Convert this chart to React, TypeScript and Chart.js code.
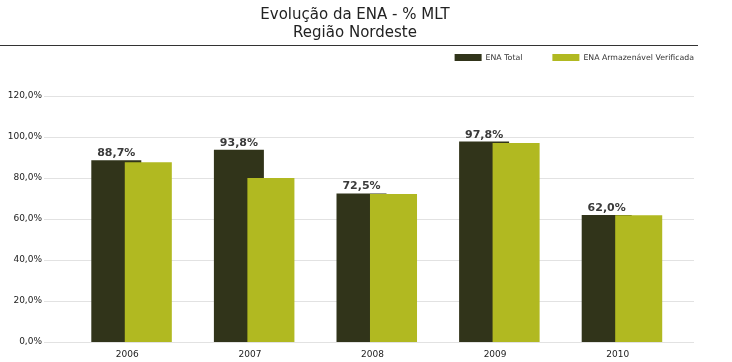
import React, { useEffect, useRef } from 'react';
import { Chart, registerables } from 'chart.js';

Chart.register(...registerables);

const years = ['2006', '2007', '2008', '2009', '2010'];
const enaTotal = [88.7, 93.8, 72.5, 97.8, 62.0];
const enaArmazenavel = [87.7, 80.0, 72.2, 97.1, 61.8];
const titleLines = ['Evolução da ENA - % MLT', 'Região Nordeste'];
const seriesNames = ['ENA Total', 'ENA Armazenável Verificada'];
const seriesColors = ['#31341a', '#b1b921'];

const fmt = (v: number) => v.toFixed(1).replace('.', ',') + '%';

const decor = {
  id: 'decor',
  beforeDatasetsDraw(chart: any) {
    const { ctx, chartArea, scales } = chart;
    const y = scales.y;
    ctx.save();
    ctx.strokeStyle = '#e2e2e2';
    ctx.lineWidth = 1;
    y.ticks.forEach((t: any) => {
      const py = Math.round(y.getPixelForValue(t.value)) + 0.5;
      ctx.beginPath();
      ctx.moveTo(chartArea.left - 27, py);
      ctx.lineTo(chartArea.right + 10, py);
      ctx.stroke();
    });
    ctx.restore();
  },
  beforeDatasetDraw(chart: any, args: any) {
    if (args.index === 1) return false;
  },
  afterDatasetsDraw(chart: any) {
    const ctx = chart.ctx;
    const meta1 = chart.getDatasetMeta(1);
    meta1.data.forEach((el: any) => el.draw(ctx));
    const meta0 = chart.getDatasetMeta(0);
    ctx.save();
    ctx.font = 'bold 11px "DejaVu Sans"';
    ctx.fillStyle = '#3a3a3a';
    ctx.textAlign = 'center';
    ctx.textBaseline = 'alphabetic';
    meta0.data.forEach((el: any, i: number) => {
      ctx.fillText(fmt(enaTotal[i]), el.x, el.y - 4);
    });
    ctx.restore();
  },
  afterDraw(chart: any) {
    const ctx = chart.ctx;
    ctx.save();
    // title
    ctx.font = '15px "DejaVu Sans"';
    ctx.fillStyle = '#222222';
    ctx.textAlign = 'center';
    ctx.textBaseline = 'alphabetic';
    ctx.fillText(titleLines[0], 355, 18.5);
    ctx.fillText(titleLines[1], 355, 36.5);
    // rule
    ctx.strokeStyle = '#333333';
    ctx.lineWidth = 1;
    ctx.beginPath();
    ctx.moveTo(0, 45.5);
    ctx.lineTo(698, 45.5);
    ctx.stroke();
    // legend
    ctx.font = '7.8px "DejaVu Sans"';
    ctx.textAlign = 'left';
    ctx.textBaseline = 'middle';
    const boxW = 27, boxH = 7, gapText = 4, gapItem = 30;
    const ds = chart.data.datasets;
    const widths = ds.map((d: any) => boxW + gapText + ctx.measureText(d.label).width);
    const total = widths.reduce((a: number, b: number) => a + b, 0) + gapItem * (ds.length - 1);
    let x = 694 - total;
    ds.forEach((d: any, i: number) => {
      ctx.fillStyle = d.backgroundColor;
      ctx.fillRect(x, 54, boxW, boxH);
      ctx.fillStyle = '#333333';
      ctx.fillText(d.label, x + boxW + gapText, 57.5);
      x += widths[i] + gapItem;
    });
    ctx.restore();
  },
};

export default function App() {
  const canvasRef = useRef<HTMLCanvasElement | null>(null);

  useEffect(() => {
    if (!canvasRef.current) return;
    const chart = new Chart(canvasRef.current, {
      type: 'bar',
      data: {
        labels: years,
        datasets: [
          {
            label: seriesNames[0],
            data: enaTotal,
            backgroundColor: seriesColors[0],
            categoryPercentage: 0.522,
            barPercentage: 1.5625,
          },
          {
            label: seriesNames[1],
            data: enaArmazenavel,
            backgroundColor: seriesColors[1],
            categoryPercentage: 0.522,
            barPercentage: 1.47,
          },
        ],
      },
      options: {
        responsive: false,
        animation: false,
        devicePixelRatio: 1,
        layout: { padding: { top: 96, left: 0, right: 48, bottom: 0 } },
        plugins: {
          legend: { display: false },
          title: { display: false },
          tooltip: { enabled: false },
        },
        scales: {
          x: {
            grid: { display: false, drawTicks: false },
            border: { display: false },
            ticks: {
              color: '#222222',
              font: { family: '"DejaVu Sans"', size: 9 },
              padding: 7,
              labelOffset: -5,
              maxRotation: 0,
            },
            afterFit: (scale: any) => {
              scale.height = 20;
            },
          },
          y: {
            min: 0,
            max: 120,
            grid: { display: false, drawTicks: true, tickLength: 27 },
            border: { display: false },
            ticks: {
              stepSize: 20,
              padding: 2,
              color: '#222222',
              font: { family: '"DejaVu Sans"', size: 9 },
              callback: (v: any) => fmt(Number(v)),
            },
            afterFit: (scale: any) => {
              scale.width = 71;
            },
          },
        },
      },
      plugins: [decor],
    });
    return () => chart.destroy();
  }, []);

  return (
    <div style={{ position: 'absolute', left: 0, top: 0, width: 732, height: 362 }}>
      <canvas ref={canvasRef} width={732} height={362} style={{ display: 'block' }} />
    </div>
  );
}
